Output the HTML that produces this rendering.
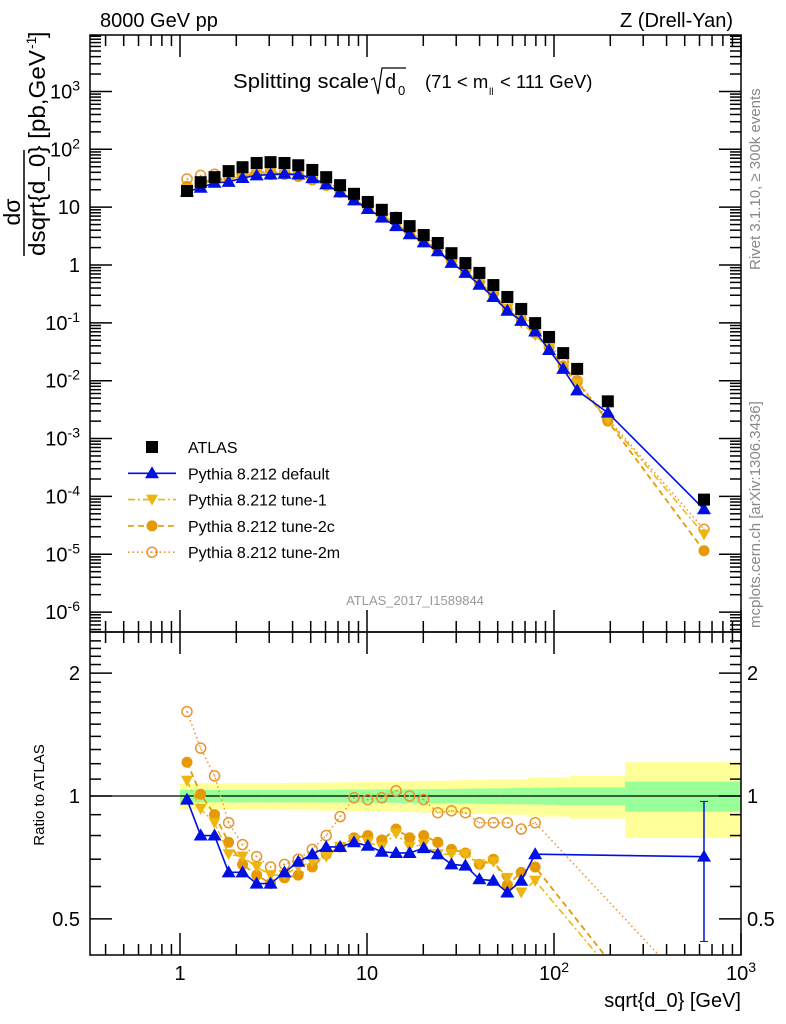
<!DOCTYPE html>
<html><head><meta charset="utf-8"><style>
html,body{margin:0;background:#fff;overflow:hidden;width:786px;height:1024px}
svg{display:block;font-family:"Liberation Sans",sans-serif;overflow:hidden}
</style></head><body>
<svg id="c" width="786" height="1024" viewBox="0 0 786 1024">
<text x="100" y="27" font-size="20">8000 GeV pp</text>
<text x="733" y="27" font-size="20" text-anchor="end">Z (Drell-Yan)</text>
<g>
<text x="233" y="88" font-size="20.5" textLength="136" lengthAdjust="spacingAndGlyphs">Splitting scale</text>
<path d="M371,80 l3,-2 l4,16 l4,-26 l24,0" fill="none" stroke="#000" stroke-width="1.2"/>
<text x="385" y="88" font-size="20">d</text><text x="398" y="95" font-size="13">0</text>
<text x="425" y="88" font-size="18.5">(71 &lt; m</text><text x="489" y="95" font-size="10">ll</text><text x="500" y="88" font-size="18.5">&lt; 111 GeV)</text>
</g>
<g transform="rotate(-90)">
<text x="-212" y="20" font-size="23" text-anchor="middle">dσ</text>
<line x1="-256" x2="-150" y1="24" y2="24" stroke="#000" stroke-width="1.5"/>
<text x="-256" y="45" font-size="23" textLength="206" lengthAdjust="spacingAndGlyphs">dsqrt{d_0} [pb,GeV</text>
<text x="-49" y="36" font-size="14">-1</text><text x="-38" y="45" font-size="23">]</text>
</g>
<text transform="translate(760,270) rotate(-90)" font-size="15" fill="#888">Rivet 3.1.10, ≥ 300k events</text>
<text transform="translate(760,628) rotate(-90)" font-size="15" fill="#888">mcplots.cern.ch [arXiv:1306.3436]</text>
<text x="415" y="605" font-size="13" fill="#999" text-anchor="middle">ATLAS_2017_I1589844</text>
<text transform="translate(44,795) rotate(-90)" font-size="15" text-anchor="middle">Ratio to ATLAS</text>
<text x="741" y="1007" font-size="20" text-anchor="end">sqrt{d_0} [GeV]</text>
<defs>
<clipPath id="rc"><rect x="90" y="632" width="651" height="323"/></clipPath>
<clipPath id="mc"><rect x="90" y="35" width="651" height="597"/></clipPath>
</defs>
<g id="g"></g>
</svg>
<script>
const xBins=[1.09,1.29,1.53,1.82,2.16,2.57,3.05,3.62,4.29,5.10,6.05,7.18,8.52,10.1,12.0,14.3,16.9,20.1,23.9,28.3,33.6,39.9,47.4,56.3,66.8,79.3,94.1,112,133,194,634];
const atlasVals=[19,27,33,42,49,58,60,58,53,44,33,24,17,12.3,9,6.5,4.7,3.3,2.4,1.6,1.08,0.73,0.45,0.28,0.174,0.099,0.057,0.030,0.016,0.0044,8.8e-5];
const defVals=[18.6,21.6,26.4,27.3,31.9,35.4,36.6,37.7,36.6,31.7,24.8,18,13.1,9.3,6.6,4.7,3.4,2.46,1.73,1.09,0.73,0.456,0.28,0.162,0.108,0.071,0.034,0.016,0.0068,0.0028,6e-5];
const t1Vals=[20.7,25.1,28.4,30.2,34.8,38.9,38.4,37.1,35.5,30.4,23.4,18,13.3,9.5,6.75,5.3,3.5,2.5,1.73,1.15,0.78,0.50,0.31,0.176,0.101,0.061,0.036,0.017,0.009,0.0021,2.2e-5];
const t2cVals=[23,27.3,29.7,32.3,33.3,37.1,36.6,36.5,33.9,29.5,23.8,18,13.4,9.8,7.0,5.4,3.7,2.64,1.85,1.18,0.78,0.50,0.315,0.169,0.113,0.066,0.038,0.018,0.0095,0.002,1.15e-5];
const t2mVals=[30.6,35.4,37,36.1,37.2,41.2,40.2,39.4,37.1,32.6,26.4,21.4,16.8,12.1,8.9,6.7,4.7,3.2,2.2,1.47,0.98,0.63,0.39,0.24,0.144,0.085,0.045,0.021,0.010,0.0022,2.7e-5];
const rX=[1.09,1.29,1.53,1.82,2.16,2.57,3.05,3.62,4.29,5.10,6.05,7.18,8.52,10.1,12.0,14.3,16.9,20.1,23.9,28.3,33.6,39.9,47.4,56.3,66.8,79.3,634];
const rDef=[0.98,0.80,0.80,0.65,0.65,0.61,0.61,0.65,0.69,0.72,0.75,0.75,0.77,0.755,0.73,0.725,0.725,0.745,0.72,0.68,0.675,0.625,0.62,0.58,0.62,0.72,0.71];
const rT1=[1.09,0.93,0.86,0.72,0.71,0.67,0.64,0.64,0.67,0.69,0.71,0.75,0.78,0.77,0.75,0.81,0.75,0.76,0.72,0.72,0.72,0.68,0.69,0.63,0.58,0.62,0.2];
const rT2c=[1.21,1.01,0.90,0.77,0.68,0.64,0.61,0.63,0.64,0.67,0.72,0.75,0.79,0.80,0.78,0.83,0.79,0.80,0.77,0.74,0.725,0.68,0.70,0.605,0.65,0.67,0.2];
const rT2m=[1.61,1.31,1.12,0.86,0.76,0.71,0.67,0.68,0.70,0.74,0.80,0.89,0.99,0.98,0.99,1.03,1.0,0.98,0.91,0.92,0.91,0.86,0.86,0.86,0.83,0.86,0.31];
const bandEdges=[1.0,1.19,1.41,1.67,1.98,2.35,2.8,3.32,3.94,4.68,5.56,6.6,7.83,9.3,11.0,13.1,15.5,18.4,21.9,26.0,30.8,36.6,43.5,51.6,61.3,72.8,86.4,102.6,121.8,240,1000];
const bandGreen=[0.035,0.035,0.035,0.035,0.035,0.035,0.035,0.035,0.035,0.035,0.036,0.036,0.037,0.037,0.038,0.038,0.039,0.04,0.04,0.041,0.042,0.043,0.044,0.045,0.046,0.047,0.048,0.05,0.05,0.085];
const bandYellow=[0.07,0.075,0.075,0.075,0.075,0.075,0.075,0.076,0.077,0.078,0.079,0.08,0.081,0.082,0.083,0.085,0.087,0.089,0.09,0.092,0.094,0.096,0.098,0.1,0.1,0.11,0.11,0.11,0.12,0.21];
const yTicks=["10^3","10^2","10","1","10^-1","10^-2","10^-3","10^-4","10^-5","10^-6"];
const yTickVals=[1e3,1e2,10,1,0.1,0.01,1e-3,1e-4,1e-5,1e-6];
const rTickVals=[0.5,1,2];
const rTicks=["0.5","1","2"];
const xTickVals=[1,10,100,1000];
const xTicks=["1","10","10^2","10^3"];

const NS="http://www.w3.org/2000/svg";
const g=document.getElementById('g');
const L=90,R=741,T=35,MB=632,RB=955;
const X=v=>180+187*Math.log10(v);
const Y=v=>265-57.85*Math.log10(v);
const RY=v=>796-408*Math.log10(v);
function el(tag,a,parent){const e=document.createElementNS(NS,tag);for(const k in a)e.setAttribute(k,a[k]);(parent||g).appendChild(e);return e;}
function sup(parent,x,y,s,anchor,fs){
  const t=el('text',{x:x,y:y,'font-size':fs,'text-anchor':anchor},parent);
  const p=s.split('^');
  if(p.length==1){t.textContent=s;return t;}
  const a=document.createElementNS(NS,'tspan');a.textContent=p[0];t.appendChild(a);
  const b=document.createElementNS(NS,'tspan');b.textContent=p[1];b.setAttribute('dy','-8');b.setAttribute('font-size',fs*0.7);t.appendChild(b);
  return t;
}
const bands=el('g',{});


for(let i=0;i<bandGreen.length;i++){
  const x1=X(bandEdges[i]),x2=Math.min(R,X(bandEdges[i+1]));
  const y=el('rect',{x:x1,y:RY(1+bandYellow[i]),width:x2-x1+0.5,height:RY(1-bandYellow[i])-RY(1+bandYellow[i]),fill:'#ffff99'},bands);
  
  
  const gr=el('rect',{x:x1,y:RY(1+bandGreen[i]),width:x2-x1+0.5,height:RY(1-bandGreen[i])-RY(1+bandGreen[i]),fill:'#99ff99'},bands);
  
  
}
const one=el('line',{x1:L,x2:R,y1:RY(1),y2:RY(1),stroke:'#000','stroke-width':1.2});



function marker(parent,type,x,y,color){
  if(type=='sq')return el('rect',{x:x-6,y:y-6,width:12,height:12,fill:'#000'},parent);
  if(type=='up')return el('path',{d:`M${x},${y-7}L${x+7},${y+5}L${x-7},${y+5}Z`,fill:color},parent);
  if(type=='dn')return el('path',{d:`M${x},${y+6}L${x+6},${y-5}L${x-6},${y-5}Z`,fill:color},parent);
  if(type=='dot')return el('circle',{cx:x,cy:y,r:5.5,fill:color},parent);
  if(type=='open'){const c=el('g',{},parent);el('circle',{cx:x,cy:y,r:5,fill:'none',stroke:color,'stroke-width':1.5},c);el('circle',{cx:x,cy:y,r:0.8,fill:color},c);return c;}
}
const series=[
 {name:'tune-2m',main:t2mVals,ratio:rT2m,col:'#e8952e',dash:'1.5,3',m:'open',w:1.5},
 {name:'tune-2c',main:t2cVals,ratio:rT2c,col:'#e59a05',dash:'6,4',m:'dot',w:1.8},
 {name:'tune-1',main:t1Vals,ratio:rT1,col:'#edb50d',dash:'7,3,2,3',m:'dn',w:1.5},
 {name:'default',main:defVals,ratio:rDef,col:'#0010e0',dash:'',m:'up',w:1.6}
];
for(const s of series){
  const gm=el('g',{'clip-path':'url(#mc)'});
  
  
  el('polyline',{points:s.main.map((v,i)=>X(xBins[i])+','+Y(v)).join(' '),fill:'none',stroke:s.col,'stroke-width':s.w,'stroke-dasharray':s.dash},gm);
  s.main.forEach((v,i)=>{const mk=marker(gm,s.m,X(xBins[i]),Y(v),s.col);
    
    });
  const gr=el('g',{'clip-path':'url(#rc)'});
  
  
  el('polyline',{points:s.ratio.map((v,i)=>X(rX[i])+','+RY(v)).join(' '),fill:'none',stroke:s.col,'stroke-width':s.w,'stroke-dasharray':s.dash},gr);
  s.ratio.forEach((v,i)=>{const mk=marker(gr,s.m,X(rX[i]),RY(v),s.col);
    
    });
  if(s.name=='default'){const xl=X(rX[rX.length-1]);el('line',{x1:xl,x2:xl,y1:RY(0.97),y2:RY(0.44),stroke:s.col,'stroke-width':1.5},gr);el('line',{x1:xl-4,x2:xl+4,y1:RY(0.97),y2:RY(0.97),stroke:s.col},gr);el('line',{x1:xl-4,x2:xl+4,y1:RY(0.44),y2:RY(0.44),stroke:s.col},gr);}
}
const ga=el('g',{});


atlasVals.forEach((v,i)=>{const mk=marker(ga,'sq',X(xBins[i]),Y(v));
  
  });

const ax=el('g',{stroke:'#000','stroke-width':1.5,fill:'none'});


el('rect',{x:L,y:T,width:R-L,height:MB-T},ax);
el('rect',{x:L,y:MB,width:R-L,height:RB-MB},ax);
for(let d=-1;d<=3;d++)for(let k=1;k<10;k++){
  const x=X(k*Math.pow(10,d));if(x<L||x>R)continue;
  const len=k==1?22:11;
  for(const [yy,dir] of [[T,1],[MB,-1],[MB,1],[RB,-1]])el('line',{x1:x,x2:x,y1:yy,y2:yy+dir*len},ax);
}
for(let d=-7;d<=4;d++)for(let k=1;k<10;k++){
  const y=Y(k*Math.pow(10,d));if(y<T||y>MB)continue;
  const len=k==1?22:11;
  el('line',{x1:L,x2:L+len,y1:y,y2:y},ax);el('line',{x1:R,x2:R-len,y1:y,y2:y},ax);
}
for(let v=0.4;v<=2.5;v+=0.1){const y=RY(v);if(y<MB||y>RB)continue;
  const major=Math.abs(v-0.5)<1e-6||Math.abs(v-1)<1e-6||Math.abs(v-2)<1e-6;const len=major?22:11;
  el('line',{x1:L,x2:L+len,y1:y,y2:y},ax);el('line',{x1:R,x2:R-len,y1:y,y2:y},ax);}
const tl=el('g',{});


yTicks.forEach((s,i)=>{const t=sup(tl,80,Y(yTickVals[i])+7,s,'end',20);
  
  });
rTicks.forEach((s,i)=>{const t=el('text',{x:80,y:RY(rTickVals[i])+7,'font-size':20,'text-anchor':'end'},tl);t.textContent=s;
  
  
  const t2=el('text',{x:747,y:RY(rTickVals[i])+7,'font-size':20},tl);t2.textContent=s;
  
  });
xTicks.forEach((s,i)=>{const t=sup(tl,X(xTickVals[i]),980,s,'middle',20);
  
  });

const leg=el('g',{});


const legItems=[['ATLAS','sq','#000',''],['Pythia 8.212 default','up','#0010e0',''],['Pythia 8.212 tune-1','dn','#edb50d','7,3,2,3'],['Pythia 8.212 tune-2c','dot','#e59a05','6,4'],['Pythia 8.212 tune-2m','open','#e8952e','1.5,3']];
legItems.forEach((it,i)=>{const y=447+26.3*i;const e=el('g',{},leg);
  
  
  if(i>0)el('line',{x1:128,x2:176,y1:y,y2:y,stroke:it[2],'stroke-width':1.6,'stroke-dasharray':it[3]},e);
  marker(e,it[1],152,y,it[2]);
  const t=el('text',{x:188,y:y+6,'font-size':16},e);t.textContent=it[0];});
</script>
</body></html>
